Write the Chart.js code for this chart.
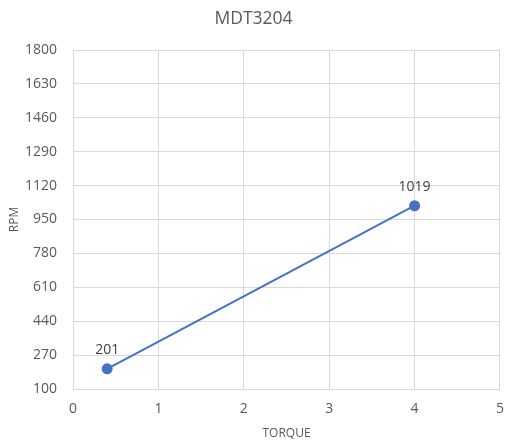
<!DOCTYPE html>
<html>
<head>
<meta charset="utf-8">
<script src="https://cdn.jsdelivr.net/npm/chart.js@4/dist/chart.umd.min.js"></script>
<style>
  html, body { margin: 0; padding: 0; background: #ffffff; }
  #wrap { width: 516px; height: 441px; }
</style>
</head>
<body>
<div id="wrap"><canvas id="c" width="516" height="441"></canvas></div>
<script>
const torque = [0.4, 4];
const rpm = [201, 1019];
const xTicks = [0, 1, 2, 3, 4, 5];
const yTicks = [100, 270, 440, 610, 780, 950, 1120, 1290, 1460, 1630, 1800];

const textColor = '#595959';
const lineColor = '#4472C4';
const gridColor = '#d9d9d9';
const fontFamily = "'Open Sans', 'Liberation Sans', sans-serif";

const labelPlugin = {
  id: 'pointLabels',
  afterDatasetsDraw(chart) {
    const ctx = chart.ctx;
    const meta = chart.getDatasetMeta(0);
    ctx.save();
    ctx.font = '14px ' + fontFamily;
    ctx.fillStyle = '#404040';
    ctx.textAlign = 'center';
    ctx.textBaseline = 'middle';
    meta.data.forEach((pt, i) => {
      ctx.fillText(String(rpm[i]), pt.x, pt.y - 19);
    });
    ctx.restore();
  }
};

new Chart(document.getElementById('c'), {
  type: 'scatter',
  data: {
    datasets: [{
      data: torque.map((t, i) => ({ x: t, y: rpm[i] })),
      showLine: true,
      borderColor: lineColor,
      backgroundColor: lineColor,
      borderWidth: 2,
      pointRadius: 4.5,
      pointHoverRadius: 4.5
    }]
  },
  options: {
    responsive: false,
    animation: false,
    devicePixelRatio: 1,
    layout: { padding: { left: 0, right: 9, top: 0, bottom: 0 } },
    plugins: {
      legend: { display: false },
      tooltip: { enabled: false },
      title: {
        display: true,
        text: 'MDT3204',
        color: textColor,
        font: { family: fontFamily, size: 17.5, weight: 'normal' },
        padding: { top: 9, bottom: 20 }
      }
    },
    scales: {
      x: {
        type: 'linear',
        min: 0,
        max: 5,
        afterBuildTicks: (s) => { s.ticks = xTicks.map(v => ({ value: v })); },
        afterFit: (s) => { s.height = 52; },
        ticks: {
          color: textColor,
          font: { family: fontFamily, size: 14 },
          padding: 12,
          maxRotation: 0,
          callback: (v) => String(v)
        },
        grid: { color: gridColor, lineWidth: 1, drawTicks: false },
        border: { color: gridColor },
        title: {
          display: true,
          text: 'TORQUE',
          color: textColor,
          font: { family: fontFamily, size: 12 },
          padding: { top: 0, bottom: 0 }
        }
      },
      y: {
        type: 'linear',
        min: 100,
        max: 1800,
        afterBuildTicks: (s) => { s.ticks = yTicks.map(v => ({ value: v })); },
        afterFit: (s) => { s.width = 73; },
        ticks: {
          color: textColor,
          font: { family: fontFamily, size: 14 },
          padding: 16,
          callback: (v) => String(v)
        },
        grid: { color: gridColor, lineWidth: 1, drawTicks: false },
        border: { color: gridColor },
        title: {
          display: true,
          text: 'RPM',
          color: textColor,
          font: { family: fontFamily, size: 12 },
          padding: { top: 7, bottom: 0 }
        }
      }
    }
  },
  plugins: [labelPlugin]
});
</script>
</body>
</html>
